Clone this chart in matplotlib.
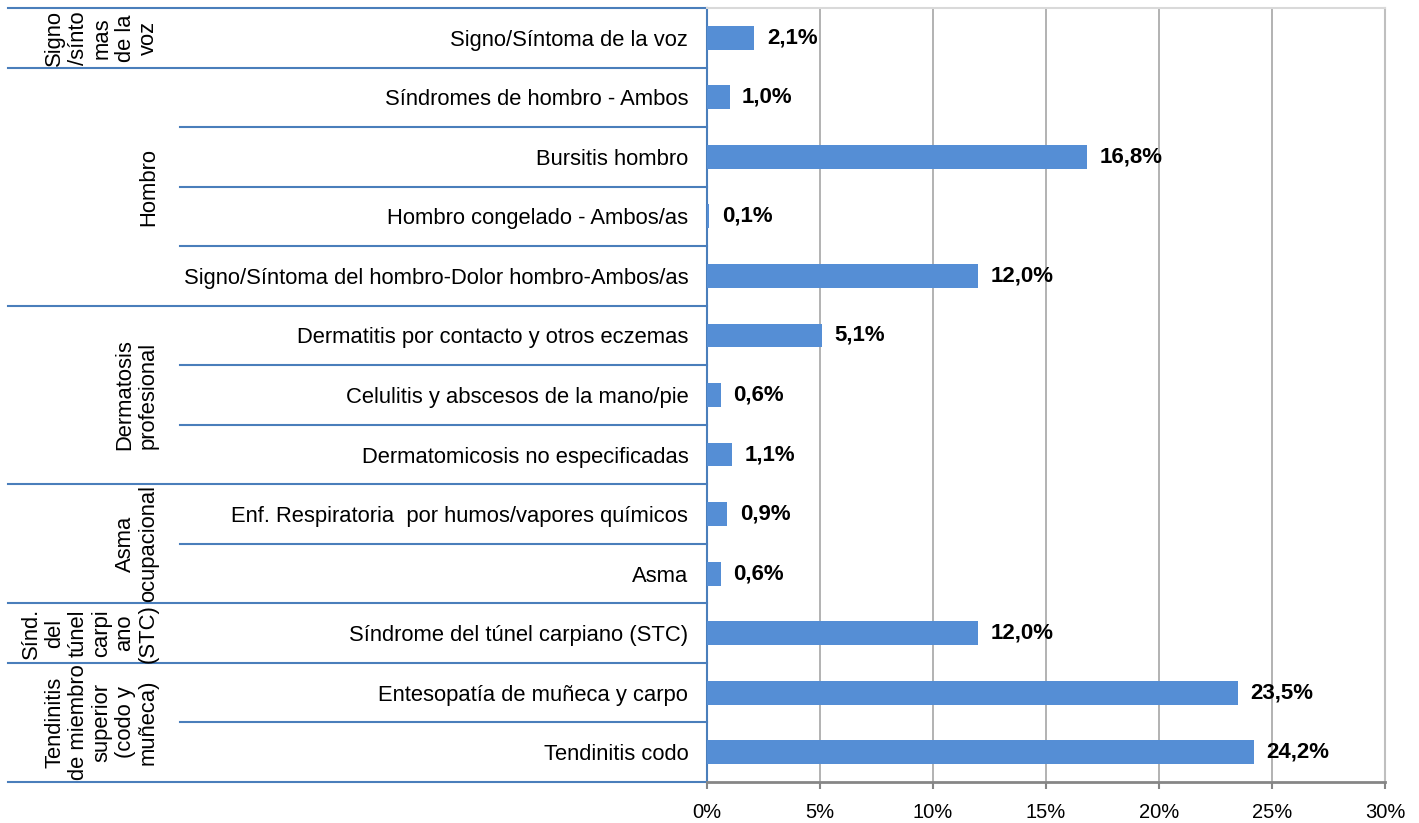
import matplotlib
matplotlib.use('Agg')
import matplotlib.pyplot as plt
from matplotlib.transforms import blended_transform_factory

categories = [
    'Signo/Síntoma de la voz',
    'Síndromes de hombro - Ambos',
    'Bursitis hombro',
    'Hombro congelado - Ambos/as',
    'Signo/Síntoma del hombro-Dolor hombro-Ambos/as',
    'Dermatitis por contacto y otros eczemas',
    'Celulitis y abscesos de la mano/pie',
    'Dermatomicosis no especificadas',
    'Enf. Respiratoria  por humos/vapores químicos',
    'Asma',
    'Síndrome del túnel carpiano (STC)',
    'Entesopatía de muñeca y carpo',
    'Tendinitis codo',
]
values = [2.1, 1.0, 16.8, 0.1, 12.0, 5.1, 0.6, 1.1, 0.9, 0.6, 12.0, 23.5, 24.2]

groups = [
    'Signo\n/sínto\nmas\nde la\nvoz',
    'Hombro',
    'Dermatosis\nprofesional',
    'Asma\nocupacional',
    'Sínd.\ndel\ntúnel\ncarpi\nano\n(STC)',
    'Tendinitis\nde miembro\nsuperior\n(codo y\nmuñeca)',
]
group_sizes = [1, 4, 3, 2, 1, 2]

xticks = [0, 5, 10, 15, 20, 25, 30]

W, H = 1419, 823
sans = ['Liberation Sans', 'DejaVu Sans']
blue_line = '#4A7EBB'

fig = plt.figure(figsize=(W / 100, H / 100), dpi=100)
ax = fig.add_axes([707 / W, 1 - 782 / H, (1385 - 707) / W, (782 - 8) / H])

pos = list(range(len(categories)))
ax.barh(pos, values, height=0.40, color='#558ED5', zorder=3)
ax.set_ylim(len(categories) - 0.5, -0.5)
ax.set_xlim(0, 30)

for p, v in zip(pos, values):
    ax.annotate(f'{v:.1f}%'.replace('.', ','), (v, p), xytext=(9, 0),
                textcoords='offset points', va='center', ha='left',
                fontsize=16, fontweight='bold', family=sans, zorder=4)

ax.set_yticks(pos)
ax.set_yticklabels(categories, fontsize=15.8, family=sans)
ax.tick_params(axis='y', length=0, pad=13.5)

ax.set_xticks(xticks)
ax.set_xticklabels([f'{t}%' for t in xticks], fontsize=14.5, family=sans)
ax.tick_params(axis='x', length=5, width=1.5, color='#868686', pad=10)

ax.grid(axis='x', color='#A6A6A6', linewidth=1.2, zorder=0)
ax.spines['left'].set_color(blue_line)
ax.spines['left'].set_linewidth(1.5)
ax.spines['bottom'].set_color('#868686')
ax.spines['bottom'].set_linewidth(2)
ax.spines['top'].set_color('#D9D9D9')
ax.spines['top'].set_linewidth(1.5)
ax.spines['right'].set_color('#BFBFBF')
ax.spines['right'].set_linewidth(1.5)

# multi-level category lines and group labels on the left
tr = blended_transform_factory(fig.transFigure, ax.transData)
x_end = 707 / W
start = 0
for name, n in zip(groups, group_sizes):
    top = start - 0.5
    ax.plot([8 / W, x_end], [top, top], color=blue_line, lw=1.5,
            transform=tr, clip_on=False)
    for k in range(1, n):
        yy = top + k
        ax.plot([180 / W, x_end], [yy, yy], color=blue_line, lw=1.5,
                transform=tr, clip_on=False)
    ax.text(159 / W, top + n / 2, name, transform=tr, rotation=90,
            ha='right', va='center', multialignment='center',
            fontsize=15.8, family=sans, linespacing=1.15)
    start += n
ax.plot([8 / W, x_end], [start - 0.5, start - 0.5], color=blue_line, lw=1.5,
        transform=tr, clip_on=False)

fig.savefig('out.png', dpi=100)
